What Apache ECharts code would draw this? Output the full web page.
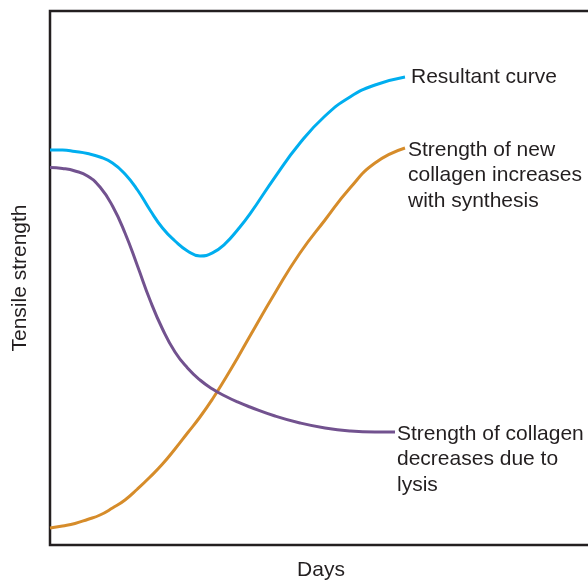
<!DOCTYPE html>
<html>
<head>
<meta charset="utf-8">
<script src="https://cdn.jsdelivr.net/npm/echarts@6/dist/echarts.min.js"></script>
<style>
  html, body { margin: 0; padding: 0; background: #fff; }
  #chart { width: 588px; height: 580px; }
</style>
</head>
<body>
<div id="chart"></div>
<script>
// Days after injury and relative tensile strength (%)
const resultantDays = [0, 0.5, 1, 1.5, 2, 2.5, 3, 3.5, 4, 4.5, 5, 5.5, 6, 6.5, 7, 7.5, 8, 9, 10, 11, 12, 13, 14.2];
const resultantStrength = [73.97, 73.97, 73.69, 73.31, 72.66, 71.54, 69.48, 66.48, 62.73, 59.36, 56.93, 55.06, 54.12, 54.7, 56.4, 59.0, 62.0, 68.91, 75.28, 80.34, 83.90, 86.14, 87.64];

const newCollagenDays = [0, 0.5, 1, 1.5, 2, 2.5, 3, 3.5, 4, 4.5, 5, 5.5, 6, 6.5, 7, 7.5, 8, 9, 10, 11, 12, 13, 14.2];
const newCollagenStrength = [3.18, 3.56, 4.03, 4.78, 5.62, 6.93, 8.43, 10.49, 12.73, 15.17, 17.98, 20.97, 23.97, 27.34, 31.09, 35.02, 39.14, 47.19, 54.68, 60.86, 66.85, 71.54, 74.34];

const lysisDays = [0, 0.5, 1, 1.5, 2, 2.5, 3, 3.5, 4, 4.5, 5, 5.5, 6, 6.5, 7, 7.5, 8, 9, 10, 11, 12, 13, 13.8];
const lysisStrength = [70.69, 70.51, 70.04, 69.10, 67.04, 63.48, 58.43, 52.25, 45.88, 40.45, 36.14, 33.15, 30.90, 29.21, 27.90, 26.78, 25.84, 24.16, 22.85, 21.91, 21.35, 21.16, 21.16];

const curveLabels = {
  resultant: 'Resultant curve',
  synthesis: 'Strength of new\ncollagen increases\nwith synthesis',
  lysis: 'Strength of collagen\ndecreases due to\nlysis'
};
const xAxisName = 'Days';
const yAxisName = 'Tensile strength';

const textColor = '#231f20';
const fontFamily = '"Liberation Sans", Arial, sans-serif';
const fontSize = 21;

function pairs(xs, ys) {
  return xs.map((x, i) => [x, ys[i]]);
}

function curve(name, xs, ys, color, text, lines, gap) {
  return {
    name: name,
    type: 'line',
    data: pairs(xs, ys),
    smooth: 0.5,
    showSymbol: false,
    symbol: 'none',
    lineStyle: { color: color, width: 3 },
    emphasis: { disabled: true },
    endLabel: {
      show: true,
      formatter: () => text,
      color: textColor,
      fontFamily: fontFamily,
      fontSize: fontSize,
      lineHeight: 25.5,
      distance: gap,
      align: 'left',
      verticalAlign: lines > 1 ? 'top' : 'middle',
      offset: lines > 1 ? [0, -11] : [0, 0]
    }
  };
}

const chart = echarts.init(document.getElementById('chart'), null, { renderer: 'canvas' });
chart.setOption({
  animation: false,
  backgroundColor: '#ffffff',
  grid: {
    left: 50, right: -4, top: 11, bottom: 35,
    outerBoundsMode: 'none',
    containLabel: false,
    show: true,
    borderColor: textColor,
    borderWidth: 2.5,
    backgroundColor: 'transparent'
  },
  xAxis: {
    type: 'value',
    min: 0, max: 21.68,
    name: xAxisName,
    nameLocation: 'middle',
    nameGap: 15,
    nameTextStyle: { color: textColor, fontSize: fontSize, fontFamily: fontFamily },
    axisLine: { show: false },
    axisTick: { show: false },
    axisLabel: { show: false },
    splitLine: { show: false }
  },
  yAxis: {
    type: 'value',
    min: 0, max: 100,
    name: yAxisName,
    nameLocation: 'middle',
    nameRotate: 90,
    nameGap: 19,
    nameTextStyle: { color: textColor, fontSize: fontSize, fontFamily: fontFamily },
    axisLine: { show: false },
    axisTick: { show: false },
    axisLabel: { show: false },
    splitLine: { show: false }
  },
  series: [
    curve('Resultant', resultantDays, resultantStrength, '#00aeef', curveLabels.resultant, 1, 6),
    curve('Synthesis', newCollagenDays, newCollagenStrength, '#d68c2a', curveLabels.synthesis, 3, 3),
    curve('Lysis', lysisDays, lysisStrength, '#72528f', curveLabels.lysis, 3, 2)
  ]
});
</script>
</body>
</html>
